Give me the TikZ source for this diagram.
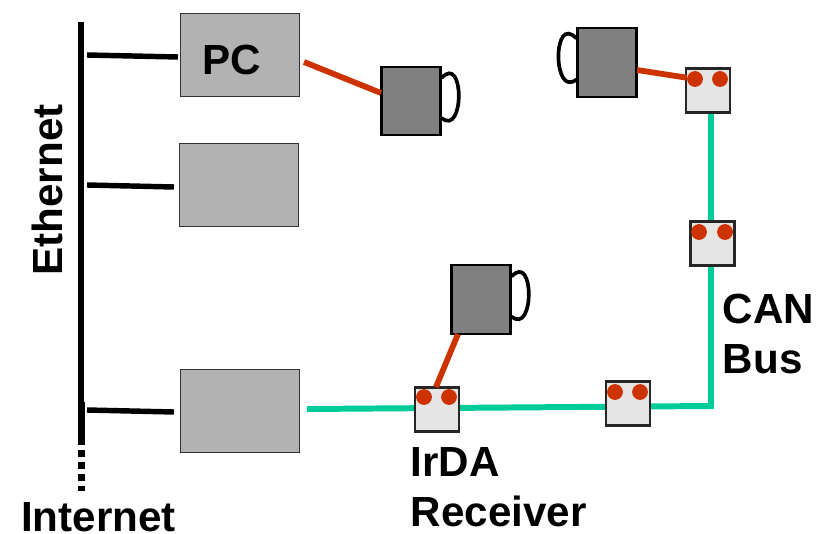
\documentclass[tikz,border=0pt]{standalone}
\usepackage{fontspec}
\setmainfont{Liberation Sans}
\definecolor{pcgray}{HTML}{B2B2B2}
\definecolor{mugray}{HTML}{808080}
\definecolor{recgray}{HTML}{E5E5E5}
\definecolor{canred}{HTML}{CC3300}
\definecolor{cangreen}{HTML}{00CC99}
\tikzset{
  pcbox/.style={draw=black!80, line width=0.8pt, fill=pcgray, minimum width=68pt, minimum height=47pt, inner sep=0pt},
  mugbox/.style={draw=black, line width=1.3pt, fill=mugray, minimum width=33.5pt, minimum height=39pt, inner sep=0pt},
  recbox/.style={draw=black!85, line width=1.3pt, fill=recgray, minimum width=25pt, minimum height=25pt, inner sep=0pt},
  recdot/.style={circle, fill=canred, minimum size=9pt, inner sep=0pt},
  lbl/.style={inner sep=0pt, font=\fontsize{24}{28.4}\selectfont\bfseries},
  wire/.style={line width=3.1pt},
  redwire/.style={canred, line width=3.3pt},
  canwire/.style={cangreen, line width=3.4pt},
  handle/.style={line width=2.1pt}
}
\begin{document}
\begin{tikzpicture}[x=0.02cm, y=-0.02cm]
    \useasboundingbox (0,0) rectangle (832,534);
    % bus and stubs
    \coordinate (bustop) at (81,22);
    \coordinate (busend) at (81,445);
    \coordinate (thicktop) at (82,402);
    \coordinate (thickend) at (82,445);
    \coordinate (netstart) at (81.5,450);
    \coordinate (netend) at (81.5,491);
    \coordinate (tap1) at (87,55);
    \coordinate (tap2) at (87,185);
    \coordinate (tap3) at (87,410);
    \coordinate (stub1) at (178,57);
    \coordinate (stub2) at (174,187);
    \coordinate (stub3) at (174,412);
    \draw [line width=3.4pt](bustop)--(busend);
    \draw [line width=3.4pt](thicktop)--(thickend);
    \draw [line width=4.1pt, dash pattern=on 4pt off 2.85pt](netstart)--(netend);
    % green line first, boxes sit on it
    \coordinate (canstart) at (307,409);
    \coordinate (cancorner) at (711,406);
    \coordinate (rec4low) at (711,113);
    \draw [canwire](canstart)--(cancorner);
    \draw [canwire, line cap=rect](cancorner)--(rec4low);
    %
    \draw
    (240,55)node(pc1)[pcbox]{}
    (239,185)node(pc2)[pcbox]{}
    (240,411)node(pc3)[pcbox]{}
    (411,101)node(mug1)[mugbox]{}
    (607,62.5)node(mug2)[mugbox]{}
    (481,299.5)node(mug3)[mugbox]{}
    (437,409.5)node(rec1)[recbox]{}
    (628,403.5)node(rec2)[recbox]{}
    (712.5,243.5)node(rec3)[recbox]{}
    (708,90.5)node(rec4)[recbox]{};
    %
    \draw
    (424,397)node(d1a)[recdot]{}
    (449,397)node(d1b)[recdot]{}
    (615,392)node(d2a)[recdot]{}
    (640,392)node(d2b)[recdot]{}
    (699,232)node(d3a)[recdot]{}
    (725,232)node(d3b)[recdot]{}
    (695,79)node(d4a)[recdot]{}
    (720,79)node(d4b)[recdot]{};
    %
    \draw [wire](tap1)--(stub1);
    \draw [wire](tap2)--(stub2);
    \draw [wire](tap3)--(stub3);
    \coordinate (pcout) at (304,62);
    \coordinate (mugin) at (381,93);
    \coordinate (mugtwo) at (637,70);
    \coordinate (mugthree) at (458,334);
    \coordinate (rectop) at (436,387);
    \draw [redwire](pcout)--(mugin);
    \draw [redwire](mugtwo)--(d4a);
    \draw [redwire](mugthree)--(rectop);
    %
    \draw [handle](mug1.east)+(0,-23) .. controls +(23,-25) and +(23,19) .. +(0,17);
    \draw [handle](mug2.west)+(0,-24) .. controls +(-24,-26) and +(-24,19) .. +(0,17);
    \draw [handle](mug3.east)+(0,-23) .. controls +(23,-25) and +(23,19) .. +(0,17);
    %
    \node (pclabel)[lbl] at (232,60){PC};
    \node (ethlabel)[lbl, rotate=90, anchor=base] at (62,190){Ethernet};
    \node (netlabel)[lbl, anchor=base] at (98.5,531){Internet};
    \node (irlabel)[lbl, align=left, anchor=west] at (410.5,487){IrDA\\Receiver};
    \node (canlabel)[lbl, align=left, anchor=west] at (722.5,334){CAN\\Bus};
\end{tikzpicture}
\end{document}
